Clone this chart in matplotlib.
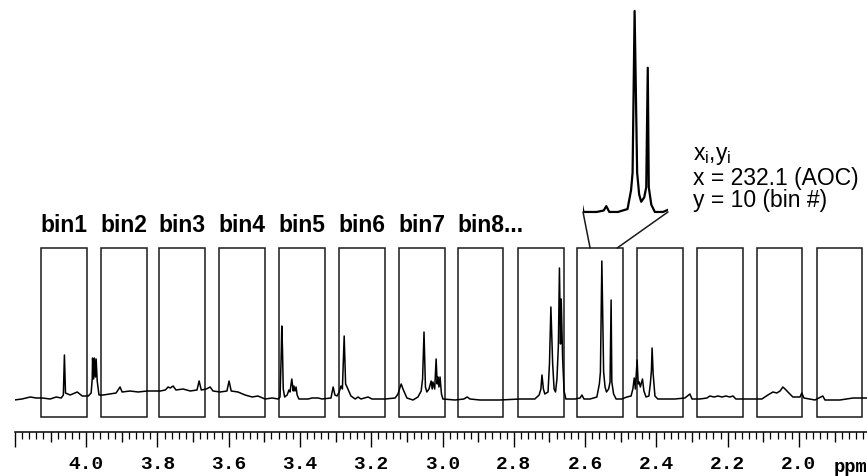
import matplotlib.pyplot as plt
from matplotlib.patches import Rectangle, ConnectionPatch
from matplotlib.ticker import MultipleLocator, FuncFormatter

plt.rcParams['mathtext.fontset'] = 'custom'
plt.rcParams['mathtext.rm'] = 'Liberation Sans'

# spectrum trace (ppm, intensity above baseline)
ppm = [4.202, 4.180, 4.157, 4.140, 4.123, 4.101, 4.084, 4.070, 4.064, 4.061, 4.058, 4.045,
       4.025, 4.011, 3.994, 3.986, 3.983, 3.982, 3.979, 3.977, 3.974, 3.972, 3.969, 3.964,
       3.952, 3.933, 3.916, 3.905, 3.899, 3.877, 3.854, 3.829, 3.806, 3.792, 3.778, 3.770,
       3.764, 3.756, 3.748, 3.728, 3.708, 3.689, 3.683, 3.677, 3.663, 3.652, 3.644, 3.624,
       3.605, 3.599, 3.593, 3.574, 3.554, 3.534, 3.518, 3.498, 3.478, 3.461, 3.456, 3.453,
       3.451, 3.449, 3.447, 3.443, 3.436, 3.431, 3.428, 3.423, 3.419, 3.417, 3.414, 3.411,
       3.408, 3.403, 3.377, 3.366, 3.349, 3.338, 3.313, 3.307, 3.302, 3.296, 3.290, 3.285,
       3.281, 3.276, 3.272, 3.268, 3.262, 3.257, 3.245, 3.237, 3.229, 3.209, 3.198, 3.161,
       3.133, 3.125, 3.119, 3.116, 3.111, 3.100, 3.083, 3.069, 3.060, 3.056, 3.052, 3.048,
       3.044, 3.038, 3.032, 3.029, 3.027, 3.022, 3.018, 3.015, 3.013, 3.010, 3.007, 3.003,
       2.999, 2.965, 2.940, 2.931, 2.923, 2.895, 2.839, 2.783, 2.741, 2.729, 2.724, 2.721,
       2.717, 2.713, 2.704, 2.700, 2.696, 2.691, 2.687, 2.683, 2.679, 2.675, 2.672, 2.669,
       2.667, 2.663, 2.659, 2.654, 2.628, 2.614, 2.609, 2.603, 2.586, 2.567, 2.560, 2.557,
       2.553, 2.548, 2.544, 2.540, 2.534, 2.530, 2.527, 2.525, 2.520, 2.513, 2.497, 2.483,
       2.471, 2.466, 2.462, 2.459, 2.454, 2.451, 2.448, 2.445, 2.439, 2.435, 2.429, 2.421,
       2.417, 2.414, 2.412, 2.409, 2.404, 2.396, 2.376, 2.348, 2.320, 2.306, 2.300, 2.278,
       2.258, 2.250, 2.238, 2.227, 2.216, 2.205, 2.194, 2.185, 2.177, 2.137, 2.104, 2.087,
       2.073, 2.062, 2.053, 2.045, 2.036, 2.031, 2.017, 1.997, 1.992, 1.986, 1.955, 1.933,
       1.927, 1.885, 1.848, 1.809]
intensity = [-1, 0, 2, 1, 1, 0, 2, 1, 4, 44, 6, 4,
             7, 3, 3, 6, 20, 41, 20, 41, 22, 40, 18, 4,
             4, 5, 6, 12, 7, 8, 7, 8, 8, 8, 9, 12,
             11, 13, 9, 10, 8, 9, 18, 9, 10, 12, 8, 7,
             8, 18, 8, 7, 4, 2, 3, 0, 1, 0, 2, 40,
             73, 48, 10, 2, 4, 9, 7, 20, 8, 13, 8, 12,
             4, 0, 0, 1, 1, 0, 1, 12, 4, 3, 7, 13,
             10, 63, 15, 12, 7, 3, 0, 2, 0, 2, 0, 0,
             1, 5, 12, 15, 10, 1, -1, 2, 8, 20, 67, 12,
             7, 10, 18, 10, 17, 10, 40, 15, 22, 12, 22, 5,
             0, -1, 0, 2, 0, -1, -1, 0, 0, 4, 10, 24,
             10, 5, 7, 35, 92, 35, 10, 7, 20, 53, 131, 55,
             100, 40, 8, 0, 0, 1, 4, 0, 0, 2, 15, 27,
             138, 27, 12, 7, 10, 17, 99, 17, 5, 0, 0, 2,
             3, 10, 21, 10, 39, 15, 17, 12, 20, 8, 2, 3,
             15, 28, 51, 25, 3, 0, 0, 0, 1, 5, 0, 0,
             1, 3, 2, 3, 2, 3, 2, 3, 0, 0, 0, 4,
             7, 6, 8, 12, 9, 7, 2, 2, 6, 1, -1, 3,
             -1, -1, 1, 1]

# integration bins (high-ppm edge of each bin)
bin_left = [4.126, 3.958, 3.795, 3.627, 3.459, 3.290, 3.122, 2.957, 2.788, 2.623,
            2.454, 2.286, 2.118, 1.950]
bin_width = 0.128
bin_labels = ['bin1', 'bin2', 'bin3', 'bin4', 'bin5', 'bin6', 'bin7', 'bin8...']

# zoomed bin (#10)
zoom_range = (2.655, 2.487)
zoom_text = ['x$_\\mathregular{i}$,y$_\\mathregular{i}$', 'x = 232.1 (AOC)', 'y = 10 (bin #)']

W, H = 867, 477
fig = plt.figure(figsize=(W / 100, H / 100), dpi=100)

ax = fig.add_axes([14.7 / W, (H - 433) / H, (W - 14.7) / W, 433 / H])
ax.set_xlim(4.2005, 1.809)
ax.set_ylim(-33, 400)

ax.plot(ppm, intensity, color='black', lw=1.1)

for left in bin_left:
    ax.add_patch(Rectangle((left - bin_width, -18), bin_width, 169, fill=False,
                           ec='#1a1a1a', lw=1.1))

for i, name in enumerate(bin_labels):
    if name.endswith('...'):
        ax.text(bin_left[i], 174, name, ha='left', va='center', fontsize=16.5,
                fontweight='bold', family='Liberation Sans')
    else:
        ax.text(bin_left[i] - bin_width / 2, 174, name, ha='center', va='center',
                fontsize=16.5, fontweight='bold', family='Liberation Sans')

# axis styling
for s in ['top', 'left', 'right']:
    ax.spines[s].set_visible(False)
ax.spines['bottom'].set_linewidth(1.1)
ax.yaxis.set_visible(False)
ax.xaxis.set_major_locator(MultipleLocator(0.1))
ax.xaxis.set_minor_locator(MultipleLocator(0.02))
ax.xaxis.set_major_formatter(FuncFormatter(
    lambda v, pos: f"{v:.1f}" if (round(v * 10) % 2 == 0 and v < 4.05) else ""))
ax.tick_params(axis='x', which='major', direction='out', length=10.8, width=1.0,
               pad=5.5, labelsize=14)
ax.tick_params(axis='x', which='minor', direction='out', length=5, width=0.9)
for tick, loc in zip(ax.xaxis.get_major_ticks(), ax.xaxis.get_majorticklocs()):
    tick.label1.set_fontfamily('Liberation Mono')
    tick.label1.set_fontweight('bold')
    if round(loc * 10) % 2 == 1:
        tick.tick1line.set_markersize(7.2)

fig.text(834 / W, 1 - 472 / H, 'ppm', family='Liberation Mono', fontweight='bold',
         fontsize=13.5, va='baseline', ha='left')

# inset with the enlarged bin
axin = fig.add_axes([583 / W, (H - 230) / H, 85 / W, 230 / H])
axin.set_xlim(*zoom_range)
axin.set_ylim(-11.7, 146.2)
axin.axis('off')
axin.plot(ppm, intensity, color='black', lw=1.6)

for xa, xb in [(zoom_range[0], 2.586), (zoom_range[1], 2.510)]:
    con = ConnectionPatch(xyA=(xa, 0), coordsA=axin.transData,
                          xyB=(xb, 151), coordsB=ax.transData,
                          color='#1a1a1a', lw=1.1)
    fig.add_artist(con)

for j, line in enumerate(zoom_text):
    fig.text(693 / W, 1 - (156 + 22.5 * j) / H, line, fontsize=16.5,
             family='Liberation Sans', va='center', ha='left')

fig.savefig('out.png', dpi=100)
